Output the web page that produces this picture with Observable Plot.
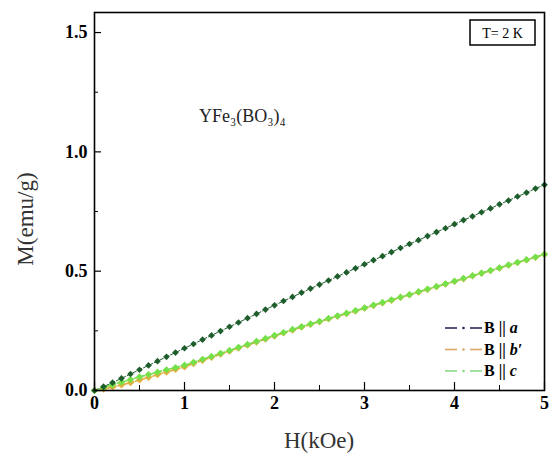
<!DOCTYPE html>
<html>
<head>
<meta charset="utf-8">
<script src="https://cdn.jsdelivr.net/npm/d3@7"></script>
<script src="https://cdn.jsdelivr.net/npm/@observablehq/plot@0.6"></script>
<style>
  html, body { margin: 0; padding: 0; background: #fff; }
  #chart { width: 552px; height: 459px; }
  #chart svg text { font-family: "Liberation Serif", "Times New Roman", "DejaVu Serif", serif; }
</style>
</head>
<body>
<div id="chart"></div>
<script>
// ---- data ----
const H = [0,0.1,0.2,0.3,0.4,0.5,0.6,0.7,0.8,0.9,1.0,1.1,1.2,1.3,1.4,1.5,1.6,1.7,1.8,1.9,2.0,2.1,2.2,2.3,2.4,2.5,2.6,2.7,2.8,2.9,3.0,3.1,3.2,3.3,3.4,3.5,3.6,3.7,3.8,3.9,4.0,4.1,4.2,4.3,4.4,4.5,4.6,4.7,4.8,4.9,5.0];
const M_a = [0,0.016,0.033,0.051,0.069,0.087,0.105,0.123,0.141,0.159,0.177,0.195,0.213,0.231,0.249,0.267,0.285,0.303,0.321,0.339,0.357,0.375,0.392,0.410,0.427,0.444,0.461,0.478,0.495,0.512,0.529,0.546,0.563,0.580,0.597,0.614,0.630,0.647,0.664,0.680,0.697,0.714,0.730,0.747,0.763,0.780,0.796,0.813,0.829,0.846,0.862];
const M_b = [0,0.006,0.014,0.023,0.033,0.044,0.055,0.066,0.077,0.088,0.099,0.113,0.126,0.139,0.152,0.165,0.178,0.190,0.203,0.215,0.228,0.241,0.253,0.265,0.277,0.288,0.300,0.311,0.322,0.333,0.345,0.356,0.367,0.378,0.390,0.401,0.412,0.423,0.435,0.446,0.457,0.468,0.480,0.491,0.502,0.513,0.525,0.536,0.547,0.558,0.570];
const M_c = [0,0.012,0.024,0.035,0.046,0.057,0.067,0.077,0.087,0.096,0.106,0.118,0.131,0.143,0.156,0.168,0.181,0.193,0.206,0.218,0.231,0.243,0.256,0.268,0.279,0.290,0.302,0.313,0.324,0.335,0.346,0.358,0.369,0.380,0.391,0.402,0.414,0.425,0.436,0.447,0.458,0.470,0.481,0.492,0.503,0.514,0.526,0.537,0.548,0.559,0.571];

const seriesNames = ["B || a", "B || b'", "B || c"];
const seriesLetters = ["a", "b\u2032", "c"];
const seriesColors = ["#1e5e2c", "#e0b040", "#74e04a"];
const legendColors = ["#2e2a55", "#d8a868", "#88d888"];

const xTicksMajor = [0, 1, 2, 3, 4, 5];
const xTicksMinor = [0.5, 1.5, 2.5, 3.5, 4.5];
const yTicksMajor = [0, 0.5, 1.0, 1.5];
const yTicksMinor = [0.25, 0.75, 1.25];

const xLabel = "H(kOe)";
const yLabel = "M(emu/g)";
const compound = "YFe\u2083(BO\u2083)\u2084";
const tempLabel = "T= 2 K";

const seriesValues = [M_a, M_b, M_c];
const rows = [];
// draw order: b' under c, a on top
[1, 2, 0].forEach(s => H.forEach((h, i) => rows.push({H: h, M: seriesValues[s][i], s})));

const serif = "Liberation Serif, Times New Roman, DejaVu Serif, serif";

const annotations = (index, scales, values, dim) => {
  const g = d3.create("svg:g").attr("font-family", serif).attr("text-anchor", "start");
  const left = dim.marginLeft, right = dim.width - dim.marginRight;
  const top = dim.marginTop, bottom = dim.height - dim.marginBottom;
  // temperature box
  const x2 = right - 9, x1 = x2 - 65, y1 = top + 8;
  g.append("rect").attr("x", x1).attr("y", y1).attr("width", 65).attr("height", 25)
    .attr("fill", "none").attr("stroke", "#000").attr("stroke-width", 1.5);
  g.append("text").attr("x", (x1 + x2) / 2).attr("y", y1 + 17.5).attr("text-anchor", "middle")
    .attr("font-size", 14).text(tempLabel);
  // compound label
  g.append("text").attr("x", left + 105).attr("y", top + 110).attr("font-size", 18)
    .attr("fill", "#222").text(compound);
  // axis titles
  g.append("text").attr("x", (left + right) / 2).attr("y", bottom + 58).attr("text-anchor", "middle")
    .attr("font-size", 23).attr("fill", "#333").text(xLabel);
  g.append("text").attr("transform", `translate(33,${top + 207}) rotate(-90)`).attr("text-anchor", "middle")
    .attr("font-size", 23).attr("fill", "#333").text(yLabel);
  // legend
  seriesNames.forEach((name, i) => {
    const y = bottom - 62 + i * 21.5;
    const xs = right - 99;
    g.append("line").attr("x1", xs).attr("x2", xs + 12).attr("y1", y).attr("y2", y)
      .attr("stroke", legendColors[i]).attr("stroke-width", 1.6);
    g.append("line").attr("x1", xs + 25).attr("x2", xs + 37).attr("y1", y).attr("y2", y)
      .attr("stroke", legendColors[i]).attr("stroke-width", 1.6);
    g.append("circle").attr("cx", xs + 18.5).attr("cy", y).attr("r", 1.3).attr("fill", legendColors[i]);
    const t = g.append("text").attr("x", xs + 39).attr("y", y + 5).attr("text-anchor", "start")
      .attr("font-size", 16).attr("font-weight", "bold");
    t.append("tspan").text("B || ");
    t.append("tspan").attr("font-style", "italic").text(seriesLetters[i]);
  });
  return g.node();
};

const chart = Plot.plot({
  width: 552,
  height: 459,
  marginLeft: 94,
  marginRight: 8,
  marginTop: 12,
  marginBottom: 69,
  style: "font-family: Liberation Serif, Times New Roman, serif; background: #fff; color: #000;",
  x: {domain: [0, 5]},
  y: {domain: [0, 1.584]},
  marks: [
    Plot.axisX(xTicksMajor, {tickSize: 0, tickPadding: 6, fontSize: 18, fontWeight: "bold", label: null, tickFormat: d3.format("d")}),
    Plot.axisY(yTicksMajor, {tickSize: 0, tickPadding: 7, fontSize: 18, fontWeight: "bold", label: null, tickFormat: d3.format(".1f")}),
    Plot.ruleX(xTicksMajor, {x: d => d, insetTop: 370, stroke: "#000", strokeWidth: 1.2}),
    Plot.ruleX(xTicksMinor, {x: d => d, insetTop: 373, stroke: "#000", strokeWidth: 1}),
    Plot.ruleY(yTicksMajor, {y: d => d, insetRight: 443, stroke: "#000", strokeWidth: 1.2}),
    Plot.ruleY(yTicksMinor, {y: d => d, insetRight: 446, stroke: "#000", strokeWidth: 1}),
    Plot.line(rows, {x: "H", y: "M", z: "s", stroke: d => seriesColors[d.s], strokeWidth: d => d.s === 0 ? 1 : 1.6, strokeDasharray: "4,2"}),
    Plot.dot(rows, {x: "H", y: "M", fill: d => seriesColors[d.s], r: d => d.s === 0 ? 2.3 : 2.7, symbol: "diamond2", stroke: "none"}),
    Plot.frame({stroke: "#000", strokeWidth: 1.6}),
    annotations
  ]
});
document.getElementById("chart").appendChild(chart);
</script>
</body>
</html>
